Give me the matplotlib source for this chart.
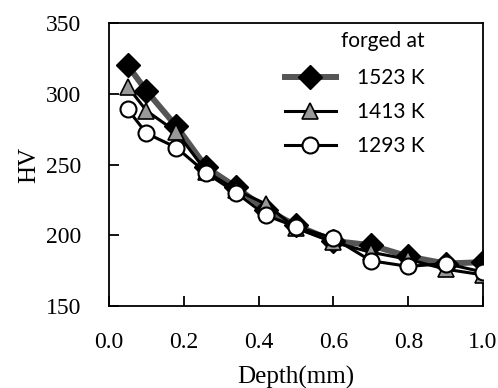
import numpy as np
import matplotlib.pyplot as plt

depth = [0.05, 0.1, 0.18, 0.26, 0.34, 0.42, 0.5, 0.6, 0.7, 0.8, 0.9, 1.0]
hv_1523 = [320, 302, 277, 248, 234, 218, 207, 196, 193, 185, 180, 181]
hv_1413 = [305, 288, 273, 245, 232, 222, 205, 195, 188, 183, 176, 172]
hv_1293 = [289, 272, 262, 244, 230, 214, 206, 198, 182, 178, 180, 174]

fig = plt.figure(figsize=(4.98, 3.88), dpi=100)
ax = fig.add_axes([0.219, 0.2113, 0.751, 0.7294])

ax.plot(depth, hv_1523, color="#555555", lw=4.3, marker="D", ms=12.5,
        mfc="black", mec="black", label="1523 K", zorder=3)
ax.plot(depth, hv_1413, color="black", lw=2.2, marker="^", ms=12,
        mfc="#999999", mec="black", mew=1.2, label="1413 K", zorder=4)
ax.plot(depth, hv_1293, color="black", lw=2.2, marker="o", ms=11.5,
        mfc="white", mec="black", mew=1.5, label="1293 K", zorder=5)

ax.set_xlim(0, 1.0)
ax.set_ylim(150, 350)
ax.set_xticks(np.arange(0, 1.01, 0.2))
ax.set_yticks(np.arange(150, 351, 50))
ax.xaxis.set_major_formatter(plt.FormatStrFormatter("%.1f"))
ax.tick_params(direction="in", length=7, width=1.3, labelsize=17)
ax.tick_params(axis="x", pad=19)
ax.tick_params(axis="y", pad=20)
for lab in ax.get_xticklabels() + ax.get_yticklabels():
    lab.set_fontfamily("Liberation Serif")
for s in ax.spines.values():
    s.set_linewidth(1.3)

ax.set_xlabel("Depth(mm)", fontfamily="Liberation Serif", fontsize=18, labelpad=9)
ax.set_ylabel("HV", fontfamily="Liberation Serif", fontsize=18, labelpad=4)

leg = ax.legend(title="forged at", frameon=False, loc="upper right",
                bbox_to_anchor=(0.845, 0.97), borderpad=0, borderaxespad=0,
                prop={"family": "Lato", "size": 15},
                title_fontproperties={"family": "Lato", "size": 15},
                handlelength=2.45, labelspacing=0.67, handletextpad=1.05)
leg._legend_box.align = "right"
leg._legend_box.sep = 12

fig.savefig("out.png", dpi=100)
